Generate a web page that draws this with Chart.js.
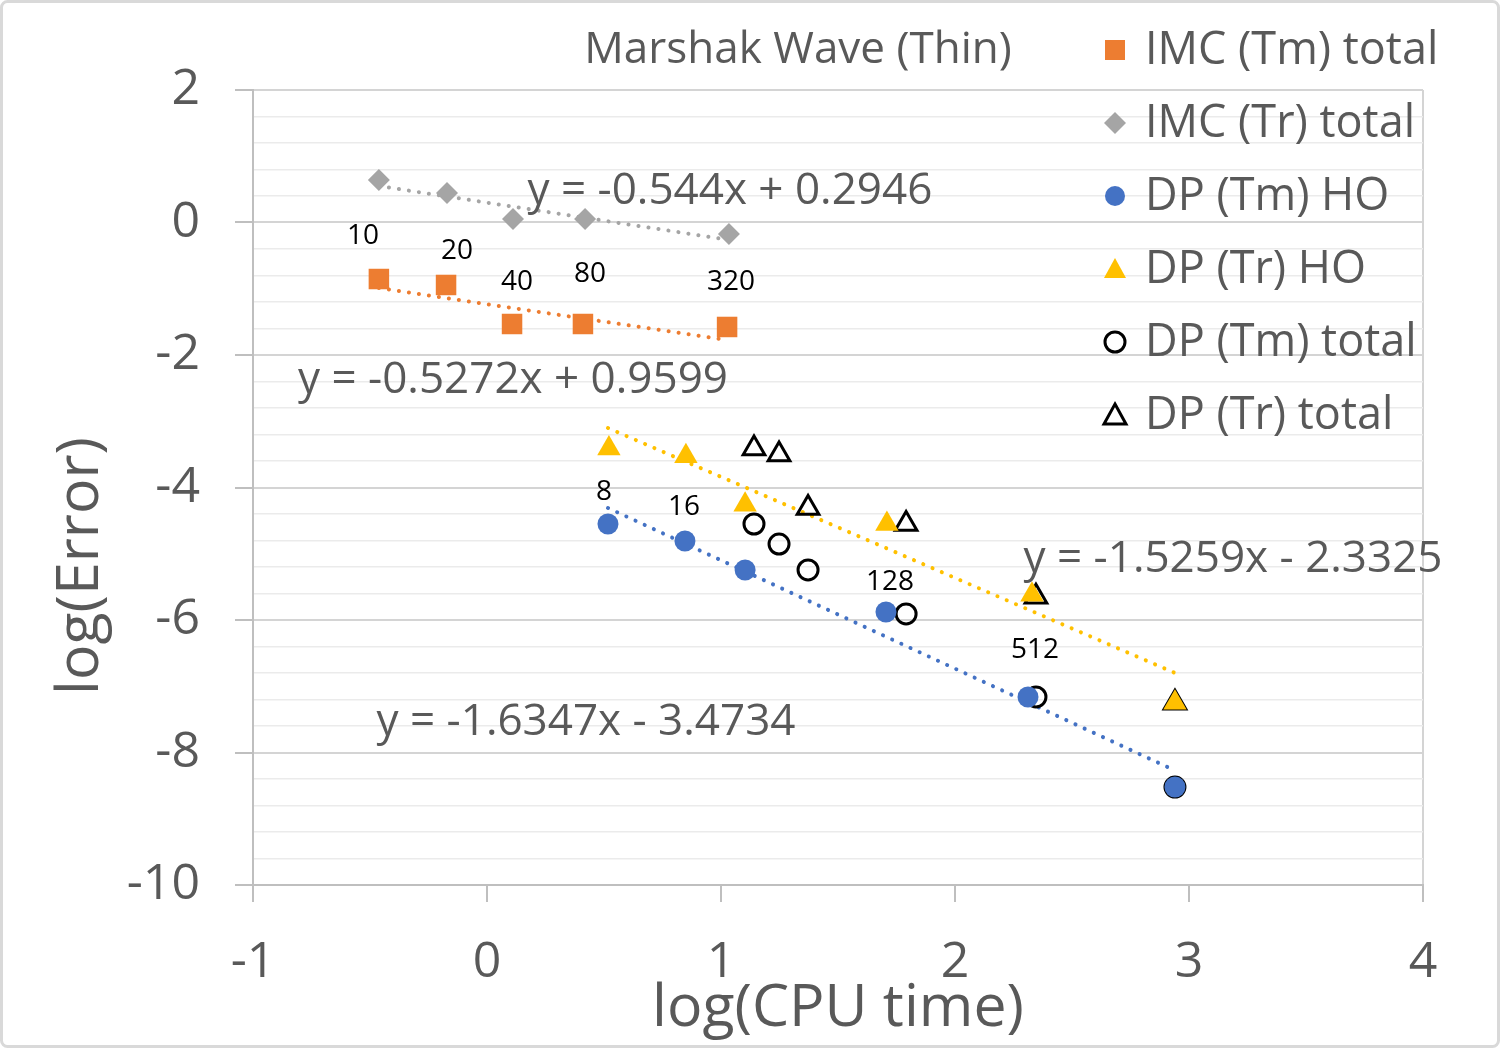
<!DOCTYPE html>
<html>
<head>
<meta charset="utf-8">
<script src="https://cdn.jsdelivr.net/npm/chart.js@4.4.0/dist/chart.umd.min.js"></script>
<style>
html, body { margin: 0; padding: 0; background: #fff; }
</style>
</head>
<body>
<canvas id="canvas" width="1500" height="1050"></canvas>
<script>
// values (log10 scale)
var imcTmX = [-0.462, -0.175, 0.107, 0.410, 1.026];
var imcTmY = [-0.853, -0.943, -1.532, -1.532, -1.577];
var imcTrX = [-0.462, -0.171, 0.111, 0.419, 1.034];
var imcTrY = [0.642, 0.445, 0.053, 0.053, -0.174];
var dpTmHoX = [0.517, 0.846, 1.103, 1.705, 2.312, 2.940];
var dpTmHoY = [-4.551, -4.808, -5.245, -5.879, -7.162, -8.521];
var dpTrHoX = [0.521, 0.850, 1.103, 1.709, 2.329, 2.940];
var dpTrHoY = [-3.41, -3.53, -4.26, -4.55, -5.62, -7.25];
var dpTmTotX = [1.141, 1.248, 1.372, 1.791, 2.346, 2.940];
var dpTmTotY = [-4.551, -4.853, -5.245, -5.909, -7.162, -8.521];
var dpTrTotX = [1.141, 1.248, 1.372, 1.791, 2.346, 2.940];
var dpTrTotY = [-3.41, -3.50, -4.31, -4.55, -5.65, -7.25];

// trendline ends
var imcTrTrendX = [-0.462, 1.034];
var imcTrTrendY = [0.551, -0.263];
var imcTmTrendX = [-0.462, 1.026];
var imcTmTrendY = [-0.989, -1.774];
var dpTmTrendX = [0.517, 2.940];
var dpTmTrendY = [-4.309, -8.271];
var dpTrTrendX = [0.517, 2.940];
var dpTrTrendY = [-3.102, -6.799];

// point annotations
var noteText = ['10', '20', '40', '80', '320', '8', '16', '128', '512'];
var noteX = [-0.530, -0.128, 0.128, 0.440, 1.043, 0.500, 0.842, 1.722, 2.342];
var noteY = [-0.204, -0.430, -0.898, -0.777, -0.898, -4.068, -4.294, -5.426, -6.453];

var eqText = ['y = -0.544x + 0.2946', 'y = -0.5272x + 0.9599', 'y = -1.5259x - 2.3325', 'y = -1.6347x - 3.4734'];
var eqX = [1.038, 0.111, 3.188, 0.423];
var eqY = [0.461, -2.377, -5.079, -7.554];

var FONT = '"Open Sans", "Noto Sans", sans-serif';
var TEXT = '#595959';

function pts(xs, ys) {
    return xs.map(function(x, i) { return {x: x, y: ys[i]}; });
}

function isMajor(v) {
    var r = Math.round(v);
    return Math.abs(v - r) < 1e-6 && r % 2 === 0;
}

function trend(xs, ys, color) {
    return {
        label: '', data: pts(xs, ys), showLine: true, pointRadius: 0,
        borderColor: color, borderWidth: 4, borderDash: [0.1, 10],
        borderCapStyle: 'round', fill: false, isTrend: true
    };
}

function drawMarker(ctx, ds, x, y) {
    ctx.beginPath();
    if (ds.pointStyle === 'rect') {
        ctx.rect(x - 10, y - 10, 20, 20);
    } else if (ds.pointStyle === 'rectRot') {
        ctx.moveTo(x, y - 11); ctx.lineTo(x + 11, y); ctx.lineTo(x, y + 11); ctx.lineTo(x - 11, y); ctx.closePath();
    } else if (ds.pointStyle === 'circle') {
        ctx.arc(x, y, 10, 0, Math.PI * 2);
    } else {
        ctx.moveTo(x, y - 11); ctx.lineTo(x + 11, y + 9); ctx.lineTo(x - 11, y + 9); ctx.closePath();
    }
    if (ds.backgroundColor !== 'rgba(0,0,0,0)') {
        ctx.fillStyle = ds.backgroundColor;
        ctx.fill();
    }
    if (ds.borderWidth) {
        ctx.lineWidth = ds.borderWidth;
        ctx.strokeStyle = ds.borderColor;
        ctx.stroke();
    }
}

var overlay = {
    id: 'overlay',
    beforeDraw: function(chart) {
        var ctx = chart.ctx;
        ctx.save();
        ctx.fillStyle = '#fff';
        ctx.fillRect(0, 0, chart.width, chart.height);
        ctx.strokeStyle = '#d9d9d9';
        ctx.lineWidth = 3;
        ctx.beginPath();
        ctx.roundRect(1.5, 1.5, chart.width - 3, chart.height - 5, 6);
        ctx.stroke();
        ctx.restore();
    },
    afterDatasetsDraw: function(chart) {
        var ctx = chart.ctx, xs = chart.scales.x, ys = chart.scales.y;
        ctx.save();
        ctx.textAlign = 'center';
        ctx.textBaseline = 'middle';

        ctx.fillStyle = '#000';
        ctx.font = '28px ' + FONT;
        noteText.forEach(function(t, i) {
            ctx.fillText(t, xs.getPixelForValue(noteX[i]), ys.getPixelForValue(noteY[i]));
        });

        ctx.fillStyle = TEXT;
        ctx.font = '44px ' + FONT;
        eqText.forEach(function(t, i) {
            ctx.fillText(t, xs.getPixelForValue(eqX[i]), ys.getPixelForValue(eqY[i]));
        });

        ctx.font = '44px ' + FONT;
        ctx.fillText('Marshak Wave (Thin)', 798, 50);

        // axis titles
        ctx.font = '59px ' + FONT;
        ctx.textBaseline = 'alphabetic';
        ctx.fillText('log(CPU time)', 838, 1026);
        ctx.save();
        ctx.translate(98, 566);
        ctx.rotate(-Math.PI / 2);
        ctx.fillText('log(Error)', 0, 0);
        ctx.restore();

        // legend
        ctx.textAlign = 'left';
        ctx.textBaseline = 'middle';
        var rows = chart.data.datasets.filter(function(d) { return !d.isTrend; });
        rows.forEach(function(ds, i) {
            var y = 50 + i * 73;
            drawMarker(ctx, ds, 1115, y);
            ctx.fillStyle = TEXT;
            ctx.font = '45px ' + FONT;
            ctx.fillText(ds.label, 1145, y + 1);
        });
        ctx.restore();
    }
};

var config = {
    type: 'scatter',
    data: {
        datasets: [
            {label: 'IMC (Tm) total', data: pts(imcTmX, imcTmY), pointStyle: 'rect', pointRadius: 14.5,
                backgroundColor: '#ED7D31', borderColor: '#ED7D31', borderWidth: 0},
            {label: 'IMC (Tr) total', data: pts(imcTrX, imcTrY), pointStyle: 'rectRot', pointRadius: 11,
                backgroundColor: '#A5A5A5', borderColor: '#A5A5A5', borderWidth: 0},
            {label: 'DP (Tm) HO', data: pts(dpTmHoX, dpTmHoY), pointStyle: 'circle', pointRadius: 10.5,
                backgroundColor: '#4472C4', borderColor: '#4472C4', borderWidth: 0},
            {label: 'DP (Tr) HO', data: pts(dpTrHoX, dpTrHoY), pointStyle: 'triangle', pointRadius: 13.5,
                backgroundColor: '#FFC000', borderColor: '#FFC000', borderWidth: 0},
            {label: 'DP (Tm) total', data: pts(dpTmTotX, dpTmTotY), pointStyle: 'circle', pointRadius: 10,
                backgroundColor: 'rgba(0,0,0,0)', borderColor: '#000', borderWidth: 3},
            {label: 'DP (Tr) total', data: pts(dpTrTotX, dpTrTotY), pointStyle: 'triangle', pointRadius: 12.5,
                backgroundColor: 'rgba(0,0,0,0)', borderColor: '#000', borderWidth: 3},
            trend(imcTrTrendX, imcTrTrendY, '#A5A5A5'),
            trend(imcTmTrendX, imcTmTrendY, '#ED7D31'),
            trend(dpTmTrendX, dpTmTrendY, '#4472C4'),
            trend(dpTrTrendX, dpTrTrendY, '#FFC000')
        ]
    },
    options: {
        responsive: false,
        animation: false,
        devicePixelRatio: 1,
        layout: {padding: {top: 90, right: 77, left: 0, bottom: 0}},
        plugins: {
            legend: {display: false},
            title: {display: false},
            tooltip: {enabled: false}
        },
        scales: {
            x: {
                type: 'linear', min: -1, max: 4,
                afterFit: function(scale) { scale.height = 165; },
                ticks: {stepSize: 1, color: TEXT, font: {family: FONT, size: 50}, padding: 31, maxRotation: 0},
                grid: {
                    color: function(c) { return c.tick && c.tick.value === 4 ? '#d4d4d4' : 'rgba(0,0,0,0)'; },
                    tickColor: '#bfbfbf', tickLength: 17, lineWidth: 2
                },
                border: {color: '#bfbfbf', width: 2}
            },
            y: {
                type: 'linear', min: -10, max: 2,
                afterFit: function(scale) { scale.width = 253; },
                ticks: {
                    stepSize: 0.4, autoSkip: false, color: TEXT, font: {family: FONT, size: 50}, padding: 35,
                    callback: function(v) { return isMajor(v) ? String(Math.round(v)) : ''; }
                },
                grid: {
                    color: function(c) { return c.tick && isMajor(c.tick.value) ? '#d4d4d4' : '#ebebeb'; },
                    lineWidth: function(c) { return c.tick && isMajor(c.tick.value) ? 2 : 1.5; },
                    tickColor: function(c) { return c.tick && isMajor(c.tick.value) ? '#bfbfbf' : 'rgba(0,0,0,0)'; },
                    tickLength: 18
                },
                border: {color: '#bfbfbf', width: 2}
            }
        }
    },
    plugins: [overlay]
};

window.onload = function() {
    window.myScatter = new Chart(document.getElementById('canvas'), config);
};
</script>
</body>
</html>
